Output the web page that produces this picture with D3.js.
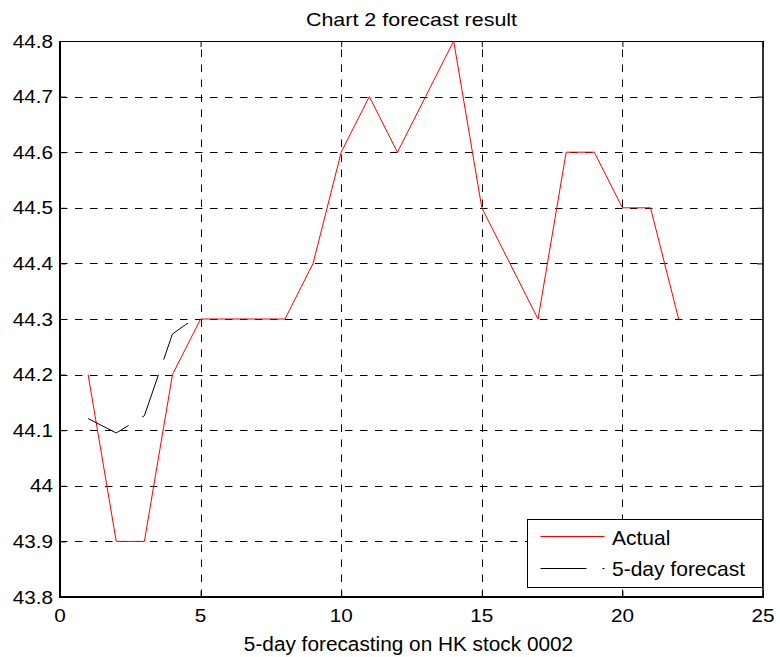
<!DOCTYPE html>
<html><head><meta charset="utf-8">
<script src="https://cdn.jsdelivr.net/npm/d3@7"></script>
<style>body{margin:0;background:#fff}svg{display:block}text{font-family:"Liberation Sans",Arial,sans-serif;fill:#000}</style>
</head><body><svg id="c" width="780" height="657"></svg>
<script>
const days = [1,2,3,4,5,6,7,8,9,10,11,12,13,14,15,16,17,18,19,20,21,22];
const actual = [44.2,43.9,43.9,44.2,44.3,44.3,44.3,44.3,44.4,44.6,44.7,44.6,44.7,44.8,44.5,44.4,44.3,44.6,44.6,44.5,44.5,44.3];
const forecastDays = [1,2,3,4,4.47,5];
const forecast = [44.121,44.095,44.126,44.273,44.29,44.305];
const xTicks = [0,5,10,15,20,25];
const yTicks = [43.8,43.9,44,44.1,44.2,44.3,44.4,44.5,44.6,44.7,44.8];
const seriesNames = ["Actual","5-day forecast"];
const titleText = "Chart 2 forecast result";
const xLabelText = "5-day forecasting on HK stock 0002";

const svg = d3.select("#c");
const L=60, R=763, T=41, B=597;
const x = d3.scaleLinear().domain([0,25]).range([L,R]);
const y = d3.scaleLinear().domain([43.8,44.8]).range([B,T]);

function stretchedText(g, tx, ty, str, size, sx, anchor){
  g.append("g").attr("transform",`translate(${tx},${ty}) scale(${sx},1)`)
   .append("text").attr("font-size",size).attr("text-anchor",anchor).text(str);
}

// grid
const grid = svg.append("g").attr("stroke","#000").attr("stroke-width",1).attr("stroke-dasharray","7.5,7.5");
xTicks.filter(t=>t>0&&t<25).forEach(t=>{
  const px=Math.round(x(t))+0.5;
  grid.append("line").attr("x1",px).attr("x2",px).attr("y1",B).attr("y2",T);
});
yTicks.filter(t=>t>43.8&&t<44.8).forEach(t=>{
  const py=Math.round(y(t))+0.5;
  grid.append("line").attr("x1",L).attr("x2",R).attr("y1",py).attr("y2",py);
});

// axes via d3
const fmt = d => d3.format("")(+d.toFixed(1));
const axB = svg.append("g").attr("transform",`translate(0,${B})`)
  .call(d3.axisBottom(x).tickValues(xTicks).tickSize(-6).tickPadding(0).tickFormat(()=>""));
const axT = svg.append("g").attr("transform",`translate(0,${T})`)
  .call(d3.axisTop(x).tickValues(xTicks).tickSize(-6).tickFormat(()=>""));
const axLe = svg.append("g").attr("transform",`translate(${L},0)`)
  .call(d3.axisLeft(y).tickValues(yTicks).tickSize(-6).tickFormat(()=>""));
const axRi = svg.append("g").attr("transform",`translate(${R},0)`)
  .call(d3.axisRight(y).tickValues(yTicks).tickSize(-6).tickFormat(()=>""));
[axB,axT,axLe,axRi].forEach(a=>{a.selectAll(".domain").remove();a.selectAll("line").attr("stroke","#000");});

// frame
svg.append("line").attr("x1",L).attr("x2",R).attr("y1",T+0.5).attr("y2",T+0.5).attr("stroke","#000").attr("stroke-width",1);
svg.append("line").attr("x1",L-1).attr("x2",R+1).attr("y1",B).attr("y2",B).attr("stroke","#000").attr("stroke-width",2);
svg.append("line").attr("x1",L).attr("x2",L).attr("y1",T).attr("y2",B).attr("stroke","#000").attr("stroke-width",2);
svg.append("line").attr("x1",R).attr("x2",R).attr("y1",T).attr("y2",B).attr("stroke","#000").attr("stroke-width",1.6);

// tick labels
const lab = svg.append("g");
yTicks.forEach(t=>{
  stretchedText(lab, 53, y(t)+6.5, t===44?"44":fmt(t), 18, 1.15, "end");
});
xTicks.forEach(t=>{
  stretchedText(lab, x(t), 621.5, String(t), 18.5, 1.12, "middle");
});

// title & xlabel
stretchedText(svg, (L+R)/2, 25.5, titleText, 19, 1.13, "middle");
stretchedText(svg, (L+R)/2 - 3, 650.5, xLabelText, 20, 1.04, "middle");

// data lines
const line = d3.line().x(d=>x(d[0])).y(d=>y(d[1]));
svg.append("path").datum(days.map((d,i)=>[d,actual[i]]))
  .attr("d",line).attr("fill","none").attr("stroke","#ff0000").attr("stroke-width",1);
svg.append("path").datum(forecastDays.map((d,i)=>[d,forecast[i]]))
  .attr("d",line).attr("fill","none").attr("stroke","#000").attr("stroke-width",1)
  .attr("stroke-dasharray","46,16");

// legend
const lg = svg.append("g");
lg.append("rect").attr("x",527.5).attr("y",519.5).attr("width",235).attr("height",68)
  .attr("fill","#fff").attr("stroke","#000").attr("stroke-width",1);
lg.append("line").attr("x1",540.5).attr("x2",604.5).attr("y1",536.5).attr("y2",536.5)
  .attr("stroke","#ff0000").attr("stroke-width",1);
lg.append("line").attr("x1",540.5).attr("x2",604.5).attr("y1",568.5).attr("y2",568.5)
  .attr("stroke","#000").attr("stroke-width",1).attr("stroke-dasharray","46,16");
lg.append("text").attr("x",612).attr("y",545).attr("font-size",21).text(seriesNames[0]);
lg.append("text").attr("x",612).attr("y",576).attr("font-size",21).text(seriesNames[1]);
</script></body></html>
